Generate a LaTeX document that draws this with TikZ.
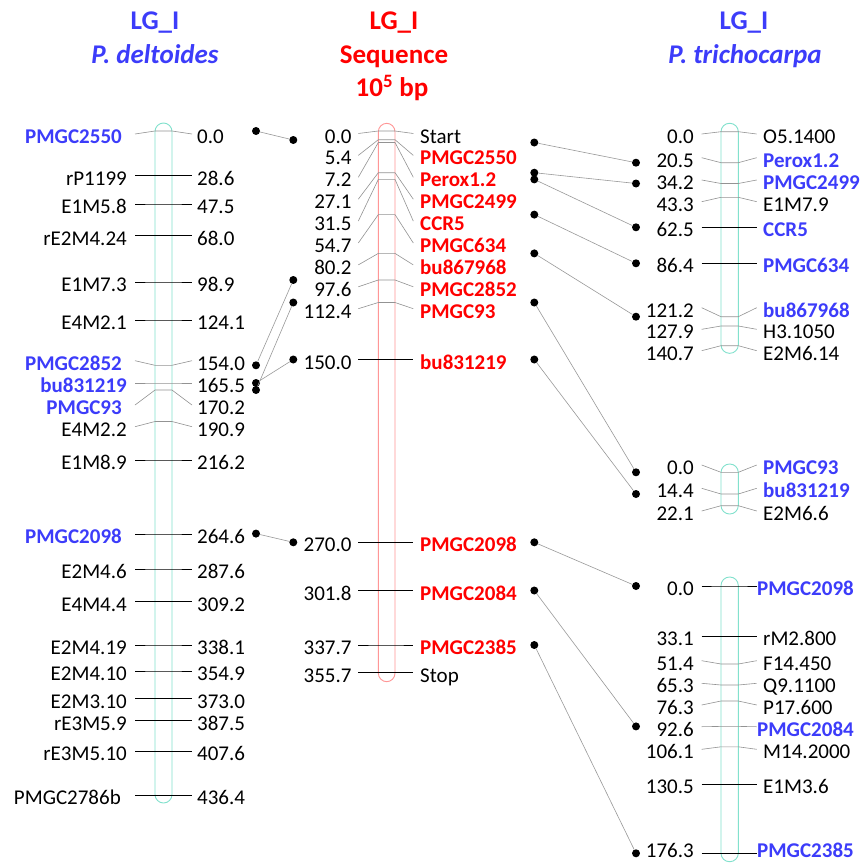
\documentclass[tikz,border=0pt]{standalone}
\usepackage{fontspec}
\setmainfont{Carlito}
\definecolor{pblue}{RGB}{60,60,250}
\definecolor{pred}{RGB}{255,0,0}
\definecolor{chrg}{RGB}{130,225,205}
\definecolor{chrr}{RGB}{255,150,150}
\newcommand\lblf{\fontsize{21}{21}\selectfont}
\newcommand\hdrf{\fontsize{27}{27}\selectfont\bfseries}
\begin{document}
\begin{tikzpicture}[x=1pt,y=-1pt,
 nm/.style={font=\lblf, inner sep=0, text=black},
 nmb/.style={font=\lblf\bfseries, inner sep=0, text=pblue},
 nmr/.style={font=\lblf\bfseries, inner sep=0, text=pred},
 tk/.style={draw=black, line width=0.8pt},
 tg/.style={draw=gray!85, line width=0.6pt},
 chrG/.style={draw=chrg, line width=0.9pt, rounded corners=8.5pt},
 chrR/.style={draw=chrr, line width=0.9pt, rounded corners=8.5pt},
 dot/.style={circle, fill=black, inner sep=0, minimum size=8pt},
 link/.style={draw=gray!80, line width=0.6pt},
 hdr/.style={font=\hdrf, inner sep=0, anchor=base}]
\fill[white] (0,0) rectangle (864,864);
\useasboundingbox (0,0) rectangle (864,864);

% headers
\node[hdr, text=pblue] (hL1) at (155,30) {LG\_I};
\node[hdr, text=pblue, font=\hdrf\itshape] (hL2) at (155,64) {P. deltoides};
\node[hdr, text=pred] (hM1) at (394,30) {LG\_I};
\node[hdr, text=pred] (hM2) at (394,64) {Sequence};
\node[hdr, text=pred] (hM3) at (392,97) {10\textsuperscript{5} bp};
\node[hdr, text=pblue] (hR1) at (744,30) {LG\_I};
\node[hdr, text=pblue, font=\hdrf\itshape] (hR2) at (745,64) {P. trichocarpa};

% left chromosome
\draw[chrG] (155,123) rectangle (172,803);
\foreach \yi/\yo/\num/\nme/\ts/\ns/\nx [count=\i] in {
 131/134/0.0/PMGC2550/tg/nmb/122,
 175.5/175.5/28.6/rP1199/tk/nm/127,
 204/204/47.5/E1M5.8/tk/nm/127,
 235.5/235.5/68.0/rE2M4.24/tk/nm/127,
 282/282/98.9/E1M7.3/tk/nm/127,
 320/320/124.1/E4M2.1/tk/nm/127,
 365.3/360.7/154.0/PMGC2852/tg/nmb/122,
 383/383/165.5/bu831219/tg/nmb/127,
 390/405/170.2/PMGC93/tg/nmb/122,
 421.5/426.7/190.9/E4M2.2/tg/nm/127,
 460/460/216.2/E1M8.9/tk/nm/127,
 534/534/264.6/PMGC2098/tk/nmb/122,
 569/569/287.6/E2M4.6/tk/nm/127,
 601.5/601.5/309.2/E4M4.4/tk/nm/127,
 645/645/338.1/E2M4.19/tk/nm/127,
 671/671/354.9/E2M4.10/tk/nm/127,
 698.5/698.5/373.0/E2M3.10/tk/nm/127,
 720.6/720.6/387.5/rE3M5.9/tk/nm/127,
 751.2/751.2/407.6/rE3M5.10/tk/nm/127,
 795/795/436.4/PMGC2786b/tk/nm/121}
{
 \draw[\ts] (135,\yo) -- (155,\yi) -- (172,\yi) -- (192,\yo);
 \node[\ns, anchor=base east] (Lname\i) at (\nx,\yo+9.5) {\nme};
 \node[nm, anchor=base west] (Lnum\i) at (197,\yo+9.5) {\num};
}

% middle chromosome
\draw[chrR] (378.3,123.3) rectangle (395,681.7);
\foreach \yi/\yo/\num/\nme/\ts/\ns [count=\i] in {
 131/133.5/0.0/Start/tg/nm,
 139.7/155.4/5.4/PMGC2550/tg/nmr,
 142.5/177.3/7.2/Perox1.2/tg/nmr,
 172.7/199.2/27.1/PMGC2499/tg/nmr,
 179.4/221.1/31.5/CCR5/tg/nmr,
 214.6/243/54.7/PMGC634/tg/nmr,
 253.4/264.9/80.2/bu867968/tg/nmr,
 280/286.8/97.6/PMGC2852/tg/nmr,
 302.5/308.7/112.4/PMGC93/tg/nmr,
 359.5/359.5/150.0/bu831219/tk/nmr,
 542.3/542.3/270.0/PMGC2098/tk/nmr,
 590.5/590.5/301.8/PMGC2084/tk/nmr,
 645/645/337.7/PMGC2385/tk/nmr,
 672.5/672.5/355.7/Stop/tk/nm}
{
 \draw[\ts] (358.3,\yo) -- (378.3,\yi) -- (395,\yi) -- (413.3,\yo);
 \node[nm, anchor=base east] (Mnum\i) at (351.7,\yo+9.5) {\num};
 \node[\ns, anchor=base west] (Mname\i) at (420,\yo+9.5) {\nme};
}

% right chromosome, group 1
\draw[chrG] (721,123.3) rectangle (738.3,353.3);
\foreach \yi/\yo/\num/\nme/\ts/\ns [count=\i] in {
 131.7/134/0.0/O5.1400/tg/nm,
 162.7/157.7/20.5/Perox1.2/tg/nmb,
 183.5/180/34.2/PMGC2499/tg/nmb,
 197.3/201.7/43.3/E1M7.9/tg/nm,
 227.3/227.3/62.5/CCR5/tk/nmb,
 263.3/263.3/86.4/PMGC634/tk/nmb,
 316.7/307.7/121.2/bu867968/tg/nmb,
 326/329.3/127.9/H3.1050/tg/nm,
 345.7/350.7/140.7/E2M6.14/tg/nm}
{
 \draw[\ts] (701.7,\yo) -- (721,\yi) -- (738.3,\yi) -- (756.7,\yo);
 \node[nm, anchor=base east] (Anum\i) at (694,\yo+9.5) {\num};
 \node[\ns, anchor=base west] (Aname\i) at (763,\yo+9.5) {\nme};
}

% right chromosome, group 2
\draw[chrG] (721,464) rectangle (738.3,514);
\foreach \yi/\yo/\num/\nme/\ts/\ns [count=\i] in {
 472.3/465/0.0/PMGC93/tg/nmb,
 494/488.3/14.4/bu831219/tg/nmb,
 505.7/511/22.1/E2M6.6/tg/nm}
{
 \draw[\ts] (701.7,\yo) -- (721,\yi) -- (738.3,\yi) -- (756.7,\yo);
 \node[nm, anchor=base east] (Bnum\i) at (694,\yo+9.5) {\num};
 \node[\ns, anchor=base west] (Bname\i) at (763,\yo+9.5) {\nme};
}

% right chromosome, group 3
\draw[chrG] (721,577) rectangle (738.3,861.7);
\foreach \yi/\yo/\num/\nme/\ts/\ns/\nx/\dy [count=\i] in {
 586/586/0.0/PMGC2098/tk/nmb/757/9.5,
 636.2/636.2/33.1/rM2.800/tk/nm/763/9.5,
 664/660.7/51.4/F14.450/tg/nm/763/9.5,
 685/683.3/65.3/Q9.1100/tg/nm/763/9.5,
 701/705/76.3/P17.600/tg/nm/763/9.5,
 726.4/726.7/92.6/PMGC2084/tg/nmb/757/9.5,
 746.8/749.3/106.1/M14.2000/tg/nm/763/9.5,
 784/784/130.5/E1M3.6/tk/nm/763/9.5,
 853.3/853.3/176.3/PMGC2385/tk/nmb/757/4.5}
{
 \draw[\ts] (701.7,\yo) -- (721,\yi) -- (738.3,\yi) -- (756.7,\yo);
 \node[nm, anchor=base east] (Cnum\i) at (694,\yo+\dy) {\num};
 \node[\ns, anchor=base west] (Cname\i) at (\nx,\yo+\dy) {\nme};
}

% dots
\node[dot] (lA) at (256,131) {};
\node[dot] (lB) at (256,365.3) {};
\node[dot] (lC) at (256,383) {};
\node[dot] (lD) at (256,390) {};
\node[dot] (lE) at (256,533.6) {};
\node[dot] (mA) at (293.3,140) {};
\node[dot] (mB) at (293.3,280) {};
\node[dot] (mC) at (293.3,302.5) {};
\node[dot] (mD) at (293.3,359.5) {};
\node[dot] (mE) at (293.3,542.3) {};
\node[dot] (nA) at (534.3,142.5) {};
\node[dot] (nB) at (534.3,172.7) {};
\node[dot] (nC) at (534.3,179.4) {};
\node[dot] (nD) at (534.3,214.6) {};
\node[dot] (nE) at (534.3,253.4) {};
\node[dot] (nF) at (534.3,302.5) {};
\node[dot] (nG) at (534.3,359.5) {};
\node[dot] (nH) at (534.3,542.3) {};
\node[dot] (nI) at (534.3,590.5) {};
\node[dot] (nJ) at (534.3,645) {};
\node[dot] (rA) at (636,162.7) {};
\node[dot] (rB) at (636,183.5) {};
\node[dot] (rC) at (636,227.3) {};
\node[dot] (rD) at (636,263.3) {};
\node[dot] (rE) at (636,316.7) {};
\node[dot] (rF) at (636,472.3) {};
\node[dot] (rG) at (636,494) {};
\node[dot] (rH) at (636,586) {};
\node[dot] (rI) at (636,726.4) {};
\node[dot] (rJ) at (636,853.3) {};

% links
\draw[link] (lA) -- (mA);
\draw[link] (lB) -- (mB);
\draw[link] (lD) -- (mC);
\draw[link] (lC) -- (mD);
\draw[link] (lE) -- (mE);
\draw[link] (nA) -- (rA);
\draw[link] (nB) -- (rB);
\draw[link] (nC) -- (rC);
\draw[link] (nD) -- (rD);
\draw[link] (nE) -- (rE);
\draw[link] (nF) -- (rF);
\draw[link] (nG) -- (rG);
\draw[link] (nH) -- (rH);
\draw[link] (nI) -- (rI);
\draw[link] (nJ) -- (rJ);
\end{tikzpicture}
\end{document}
